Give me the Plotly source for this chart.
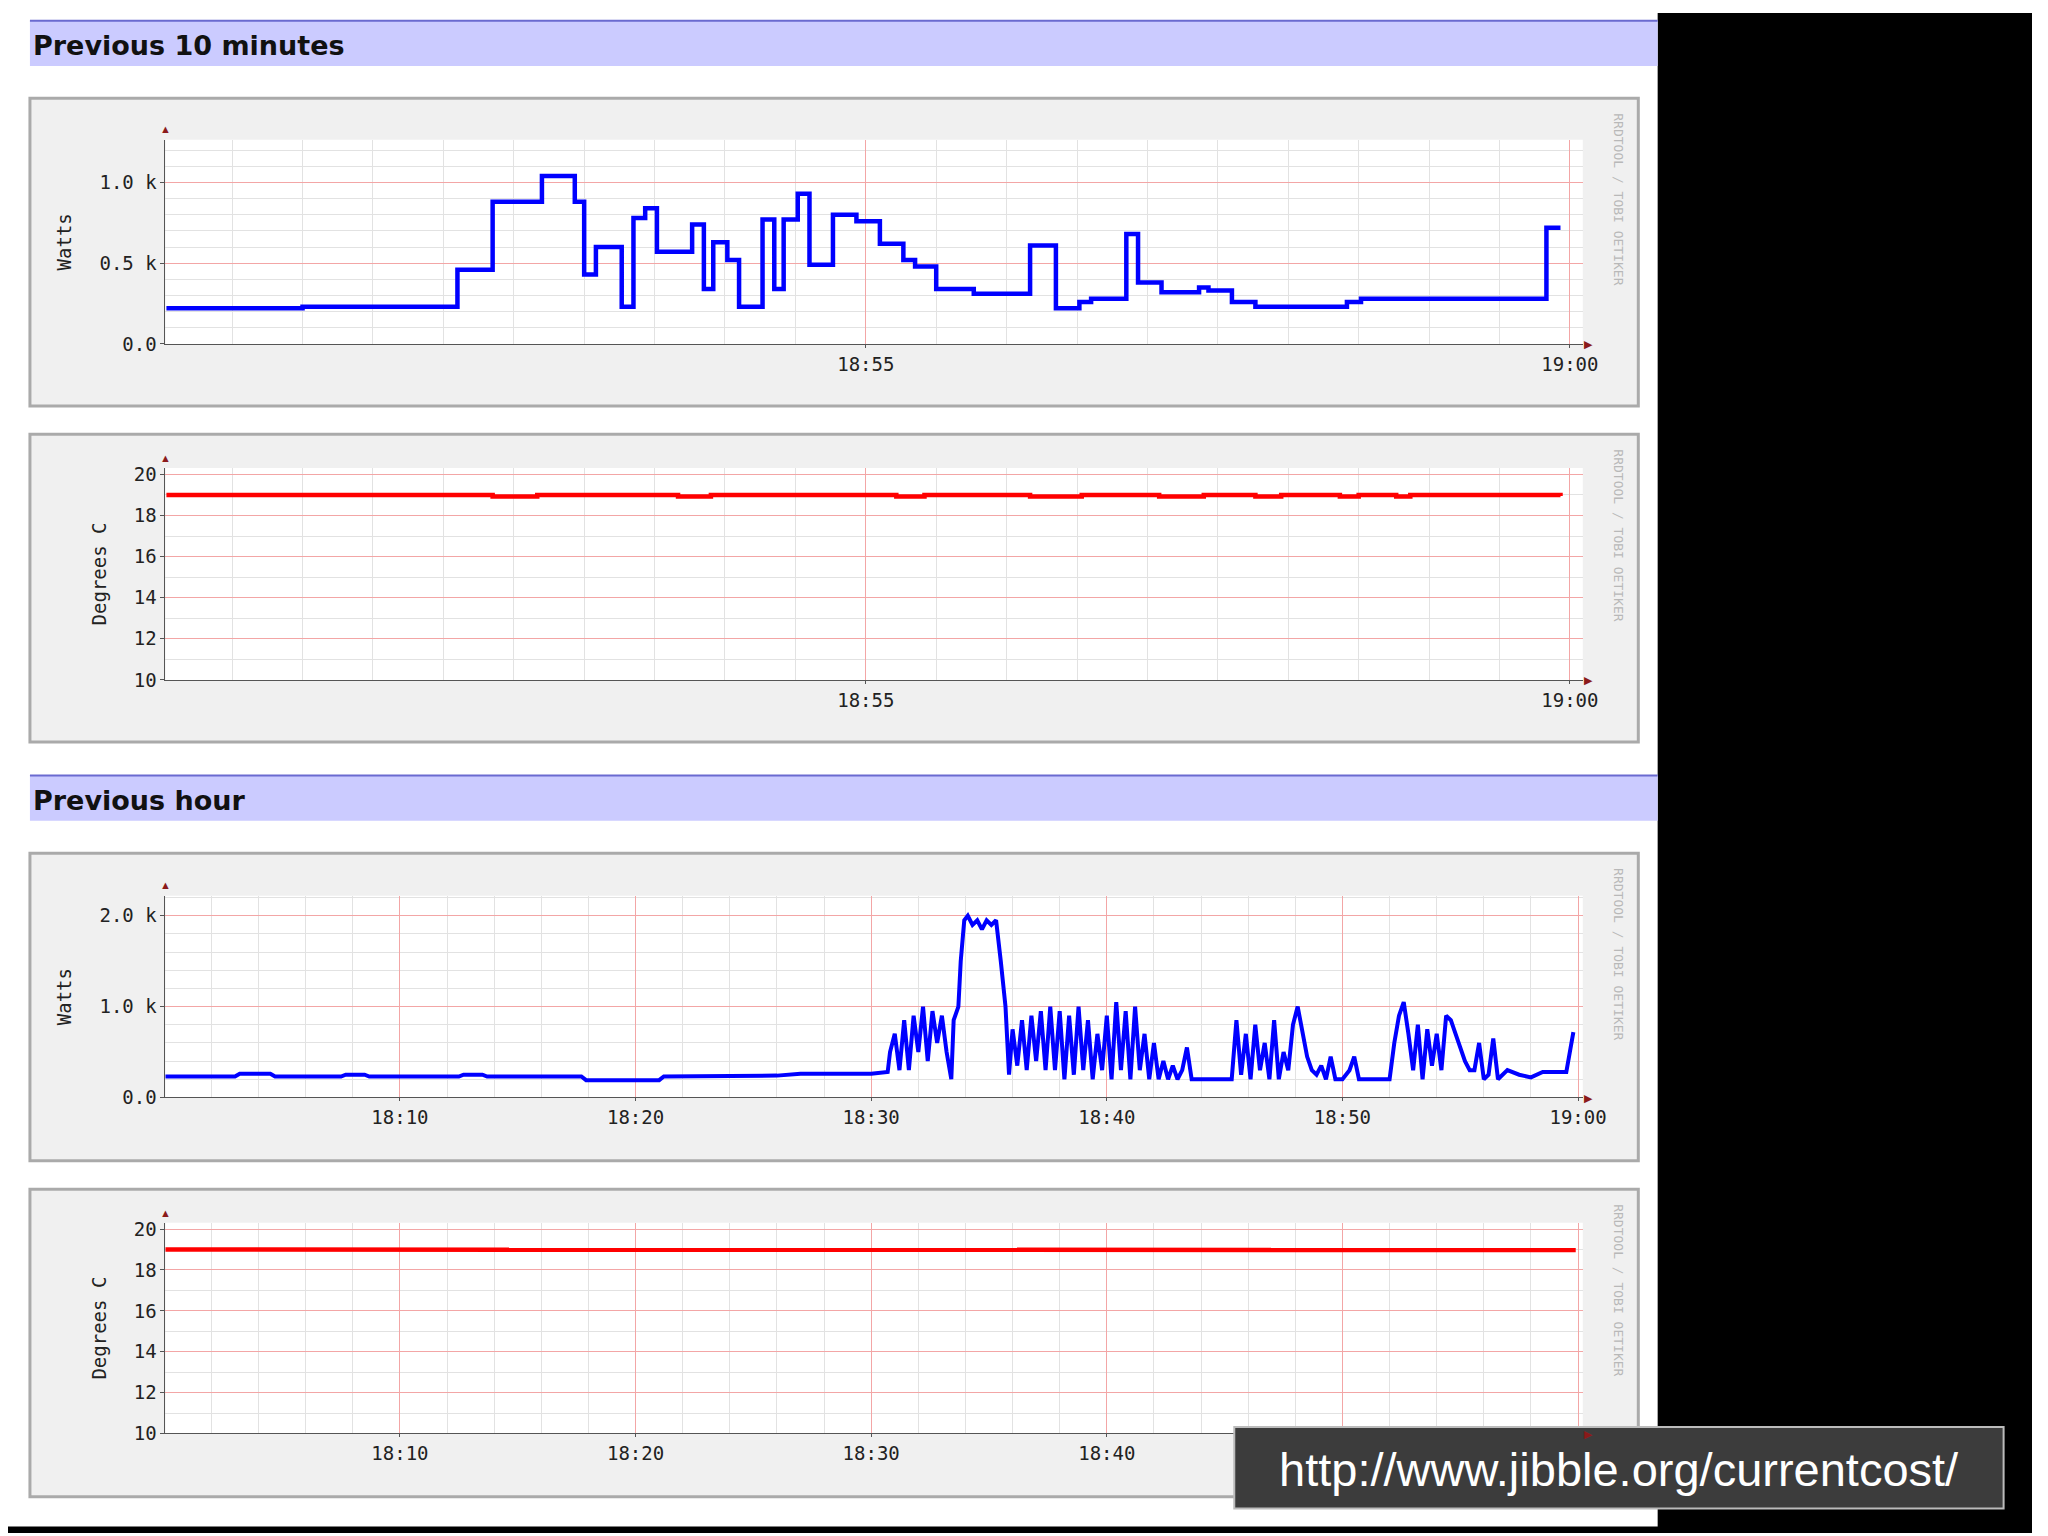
import plotly.graph_objects as go

W, H = 1568.0, 1176.0  # reference layout units, converted to paper fractions

# --- data -------------------------------------------------------------------
# previous 10 minutes: seconds after 18:50:00, watts (k)
p10_sec = [2, 60, 126, 141, 162, 176, 180, 185, 196, 201, 206, 211, 226, 231, 235,
           241, 246, 256, 261, 265, 271, 276, 286, 296, 306, 316, 321, 330, 346,
           370, 381, 391, 396, 411, 416, 426, 442, 446, 456, 466, 505, 511, 590, 596]
p10_watts = [0.22, 0.23, 0.46, 0.88, 1.04, 0.88, 0.43, 0.60, 0.23, 0.78, 0.84, 0.57,
             0.74, 0.34, 0.63, 0.52, 0.23, 0.77, 0.34, 0.77, 0.93, 0.49, 0.80, 0.76,
             0.62, 0.52, 0.48, 0.34, 0.31, 0.61, 0.22, 0.26, 0.28, 0.68, 0.38, 0.32,
             0.35, 0.33, 0.26, 0.23, 0.26, 0.28, 0.72, 0.72]
p10_tsec = [2, 141, 160, 220, 234, 313, 325, 370, 392, 425, 444, 466, 477, 502, 510,
            526, 532, 596]
p10_temp = [19.0, 18.92, 19.0, 18.92, 19.0, 18.92, 19.0, 18.92, 19.0, 18.92, 19.0,
            18.92, 19.0, 18.92, 19.0, 18.92, 19.0, 18.95]

# previous hour: minutes after 18:00, watts (k)
hr_min = [0, 3, 3.2, 4.5, 4.7, 7.5, 7.7, 8.5, 8.7, 12.5, 12.7, 13.5, 13.7, 17.7, 17.9,
          21, 21.2, 24, 26, 27, 30, 30.7,
          30.8, 31.0, 31.2, 31.4, 31.6, 31.8, 32.0, 32.2, 32.4, 32.6, 32.8, 33.0, 33.2,
          33.4, 33.5, 33.7, 33.8, 33.95, 34.1, 34.3, 34.5, 34.7, 34.9, 35.1, 35.3, 35.5,
          35.7, 35.85, 36.0, 36.2, 36.4, 36.6, 36.8, 37.0, 37.2, 37.4, 37.6, 37.8, 38.0,
          38.2, 38.4, 38.6, 38.8, 39.0, 39.2, 39.4, 39.6, 39.8, 40.0, 40.2, 40.4, 40.6,
          40.8, 41.0, 41.2, 41.4, 41.6, 41.8, 42.0, 42.2, 42.4, 42.6, 42.8, 43.0, 43.2,
          43.4, 43.6, 45.3, 45.5, 45.7, 45.9, 46.1, 46.3, 46.5, 46.7, 46.9, 47.1, 47.3,
          47.5, 47.7, 47.9, 48.1, 48.3, 48.5, 48.7, 48.9, 49.1, 49.3, 49.5, 49.7, 50.0,
          50.3, 50.5, 50.7, 52.0, 52.2, 52.4, 52.6, 52.8, 53.0, 53.2, 53.4, 53.6, 53.8,
          54.0, 54.2, 54.4, 54.6, 54.8, 55.0, 55.2, 55.4, 55.6, 55.8, 56.0, 56.2, 56.4,
          56.6, 57.0, 57.5, 58.0, 58.5, 59.5, 59.8]
hr_watts = [0.23, 0.23, 0.26, 0.26, 0.23, 0.23, 0.25, 0.25, 0.23, 0.23, 0.25, 0.25, 0.23,
            0.23, 0.19, 0.19, 0.23, 0.23, 0.24, 0.26, 0.26, 0.28,
            0.5, 0.7, 0.3, 0.85, 0.3, 0.9, 0.5, 1.0, 0.4, 0.95, 0.6, 0.9, 0.5,
            0.2, 0.85, 1.0, 1.5, 1.95, 2.0, 1.9, 1.95, 1.85, 1.95, 1.9, 1.95, 1.5,
            1.0, 0.25, 0.75, 0.35, 0.85, 0.3, 0.9, 0.4, 0.95, 0.3, 1.0, 0.3, 0.95,
            0.2, 0.9, 0.25, 1.0, 0.3, 0.85, 0.2, 0.7, 0.3, 0.9, 0.2, 1.05, 0.3,
            0.95, 0.2, 1.0, 0.3, 0.7, 0.2, 0.6, 0.2, 0.4, 0.2, 0.35, 0.2, 0.3,
            0.55, 0.2, 0.2, 0.85, 0.25, 0.7, 0.2, 0.8, 0.3, 0.6, 0.2, 0.85, 0.2,
            0.5, 0.3, 0.8, 1.0, 0.75, 0.45, 0.3, 0.25, 0.35, 0.2, 0.45, 0.2, 0.2,
            0.3, 0.45, 0.2, 0.2, 0.6, 0.9, 1.05, 0.7, 0.3, 0.8, 0.2, 0.75, 0.35,
            0.7, 0.3, 0.9, 0.85, 0.7, 0.55, 0.4, 0.3, 0.3, 0.6, 0.2, 0.25, 0.65,
            0.2, 0.3, 0.25, 0.22, 0.28, 0.28, 0.72]
hr_tmin = [0, 26, 26.5, 40, 40.5, 48, 48.5, 52, 53, 56, 57, 59.9]
hr_temp = [19.0, 19.0, 18.97, 19.0, 18.97, 19.0, 18.97, 19.0, 18.96, 18.97, 18.96, 18.98]

SECTIONS = ["Previous 10 minutes", "Previous hour"]

# --- layout helpers -----------------------------------------------------------
def px_x(v):
    return v / W

def px_y(v):
    return 1 - v / H

MONO = "DejaVu Sans Mono"
MAJ, MIN = "#f3a6a6", "#e2e2e2"

fig = go.Figure()

# panels: (axis suffix, top px, bottom px, box top, box bottom)
panels = [("", 98, 256, 66, 304), ("2", 352, 516, 326, 564),
          ("3", 683, 839, 650, 888), ("4", 936, 1099, 910, 1148)]

shapes = [
    dict(type="rect", xref="paper", yref="paper", x0=px_x(1278), x1=1, y0=0, y1=1,
         fillcolor="black", line_width=0, layer="below"),
    dict(type="rect", xref="paper", yref="paper", x0=0, x1=1, y0=0, y1=px_y(1171),
         fillcolor="black", line_width=0, layer="below"),
]
annotations = []
for top, text in [(6, SECTIONS[0]), (590, SECTIONS[1])]:
    shapes.append(dict(type="rect", xref="paper", yref="paper", x0=px_x(17), x1=px_x(1278),
                       y0=px_y(top + 35), y1=px_y(top), fillcolor="#cbcbff",
                       line_width=0, layer="below"))
    shapes.append(dict(type="line", xref="paper", yref="paper", x0=px_x(17), x1=px_x(1278),
                       y0=px_y(top), y1=px_y(top), line=dict(color="#6a6ad0", width=2)))
    annotations.append(dict(text=f"<b>{text}</b>", xref="paper", yref="paper",
                            x=px_x(18), y=px_y(top + 19), xanchor="left", yanchor="middle",
                            showarrow=False, font=dict(family="DejaVu Sans", size=27,
                                                       color="#111")))

for suf, top, bot, btop, bbot in panels:
    shapes.append(dict(type="rect", xref="paper", yref="paper", x0=px_x(17), x1=px_x(1263),
                       y0=px_y(bbot), y1=px_y(btop), fillcolor="#f0f0f0",
                       line=dict(color="#aaaaaa", width=3), layer="below"))
    shapes.append(dict(type="rect", xref="paper", yref="paper", x0=px_x(122), x1=px_x(1220),
                       y0=px_y(bot), y1=px_y(top), fillcolor="white",
                       line_width=0, layer="below"))
    annotations.append(dict(text="RRDTOOL / TOBI OETIKER", xref="paper", yref="paper",
                            x=px_x(1248), y=px_y(btop + 10), xanchor="center", yanchor="top",
                            textangle=90, showarrow=False,
                            font=dict(family=MONO, size=13, color="#b8b8b8")))
    annotations.append(dict(text="▲", xref="paper", yref="paper", x=px_x(122),
                            y=px_y(top - 1), xanchor="center", yanchor="bottom",
                            showarrow=False, font=dict(size=11, color="#8b1a1a")))
    annotations.append(dict(text="▶", xref="paper", yref="paper", x=px_x(1219),
                            y=px_y(bot), xanchor="left", yanchor="middle", showarrow=False,
                            font=dict(size=11, color="#8b1a1a")))

fig.add_trace(go.Scatter(x=p10_sec, y=p10_watts, mode="lines", line_shape="hv",
                         line=dict(color="#0000ff", width=4.5), xaxis="x", yaxis="y"))
fig.add_trace(go.Scatter(x=p10_tsec, y=p10_temp, mode="lines", line_shape="hv",
                         line=dict(color="#ff0000", width=4.5), xaxis="x2", yaxis="y2"))
fig.add_trace(go.Scatter(x=hr_min, y=hr_watts, mode="lines",
                         line=dict(color="#0000ff", width=4), xaxis="x3", yaxis="y3"))
fig.add_trace(go.Scatter(x=hr_tmin, y=hr_temp, mode="lines",
                         line=dict(color="#ff0000", width=4.5), xaxis="x4", yaxis="y4"))

tick_font = dict(family=MONO, size=19, color="#222")


def xaxis(rng, vals, text, minor):
    return dict(domain=[px_x(122), px_x(1220)], range=rng, tickmode="array",
                tickvals=vals, ticktext=text, showgrid=True, gridcolor=MAJ,
                minor=dict(tickmode="linear", tick0=0, dtick=minor, showgrid=True,
                           gridcolor=MIN, ticks=""),
                showline=True, linecolor="#555", ticks="outside", ticklen=3,
                tickcolor="#555", tickfont=tick_font, zeroline=False, fixedrange=True)


def yaxis(top, bot, rng, vals, text, minor, title, anchor):
    return dict(domain=[px_y(bot), px_y(top)], range=rng, tickmode="array",
                tickvals=vals, ticktext=text, showgrid=True, gridcolor=MAJ,
                minor=dict(tickmode="linear", tick0=0, dtick=minor, showgrid=True,
                           gridcolor=MIN, ticks=""),
                showline=True, linecolor="#555", ticks="outside", ticklen=4,
                tickcolor="#555", tickfont=tick_font, zeroline=False, anchor=anchor,
                title=dict(text=title, font=dict(family=MONO, size=19, color="#222"),
                           standoff=22), fixedrange=True)


x10 = ([1.6, 605.5], [300, 600], ["18:55", "19:00"], 30)
xhr = ([0.05, 60.2], [10, 20, 30, 40, 50, 60],
       ["18:10", "18:20", "18:30", "18:40", "18:50", "19:00"], 2)
temp_ticks = ([10, 20.31], [10, 12, 14, 16, 18, 20], ["10", "12", "14", "16", "18", "20"], 1)

annotations.append(dict(text="http://www.jibble.org/currentcost/", xref="paper",
                        yref="paper", x=px_x(1248), y=px_y(1127), xanchor="center",
                        yanchor="middle", showarrow=False,
                        font=dict(family="Liberation Sans", size=47, color="white")))

fig.update_layout(
    width=2048, height=1536, margin=dict(l=0, r=0, t=0, b=0),
    paper_bgcolor="white", plot_bgcolor="white", showlegend=False,
    shapes=shapes, annotations=annotations,
    xaxis=dict(**xaxis(*x10[:3], x10[3]), anchor="y"),
    yaxis=yaxis(98, 256, [0, 1.265], [0, 0.5, 1.0], ["0.0", "0.5 k", "1.0 k"], 0.1,
                "Watts", "x"),
    xaxis2=dict(**xaxis(*x10[:3], x10[3]), anchor="y2"),
    yaxis2=yaxis(352, 516, *temp_ticks, "Degrees C", "x2"),
    xaxis3=dict(**xaxis(*xhr[:3], xhr[3]), anchor="y3"),
    yaxis3=yaxis(683, 839, [0, 2.22], [0, 1.0, 2.0], ["0.0", "1.0 k", "2.0 k"], 0.2,
                 "Watts", "x3"),
    xaxis4=dict(**xaxis(*xhr[:3], xhr[3]), anchor="y4"),
    yaxis4=yaxis(936, 1099, *temp_ticks, "Degrees C", "x4"),
)
# URL box drawn on top of the last panel
fig.add_shape(type="rect", xref="paper", yref="paper", x0=px_x(950), x1=px_x(1546),
              y0=px_y(1157), y1=px_y(1094), fillcolor="#3c3c3c",
              line=dict(color="#bbbbbb", width=2), layer="above")

fig.write_html("out.html")
